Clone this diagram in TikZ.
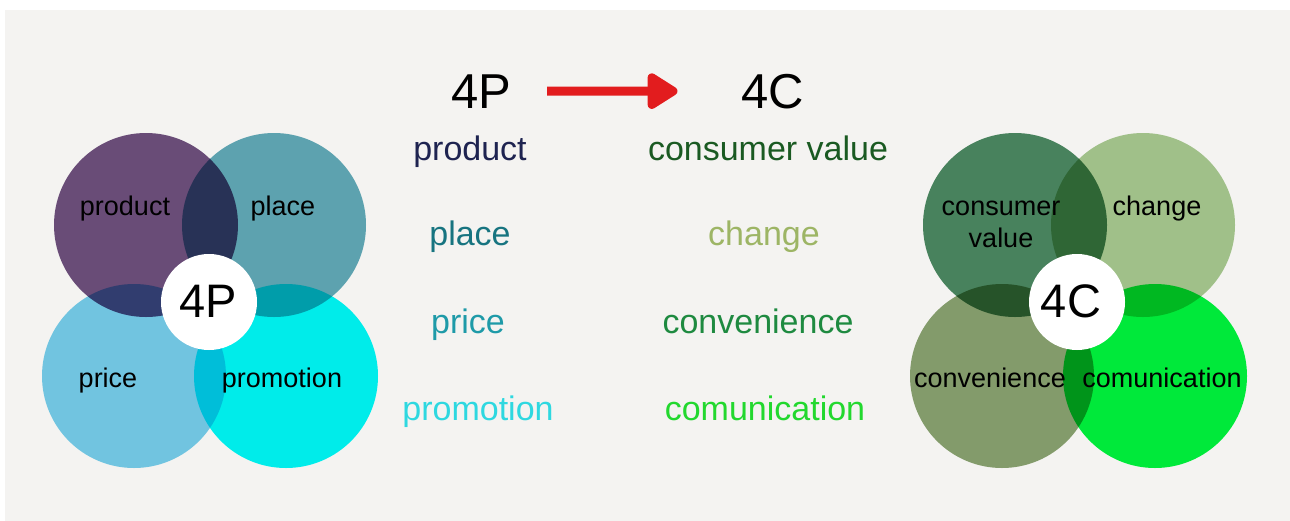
\documentclass[tikz,border=0pt]{standalone}
\usepackage{xcolor}
\usepackage{fontspec}
\setmainfont{Liberation Sans}
\usepackage{tikz}
\usetikzlibrary{arrows.meta}

\definecolor{bggray}{RGB}{244,243,241}
\definecolor{productc}{RGB}{110,80,126}
\definecolor{placec}{RGB}{98,171,186}
\definecolor{pricec}{RGB}{119,206,238}
\definecolor{promoc}{RGB}{0,248,248}
\definecolor{valuec}{RGB}{76,137,99}
\definecolor{changec}{RGB}{168,202,146}
\definecolor{convc}{RGB}{137,163,114}
\definecolor{comc}{RGB}{0,245,62}
\definecolor{arrowred}{RGB}{226,28,30}

\tikzset{
  big/.style={font=\fontsize{49}{49}\selectfont, anchor=base, inner sep=0pt},
  item/.style={font=\fontsize{34}{34}\selectfont, anchor=base, inner sep=0pt},
  lbl/.style={font=\fontsize{27}{32}\selectfont, anchor=base, inner sep=0pt, align=center},
  hub/.style={font=\fontsize{47}{47}\selectfont, anchor=base, inner sep=0pt},
}

\begin{document}
\begin{tikzpicture}[x=1pt,y=-1pt]
    \def\productcircle{(146,225) circle (92pt)}
    \def\placecircle{(274,225) circle (92pt)}
    \def\pricecircle{(134,376) circle (92pt)}
    \def\promocircle{(286,376) circle (92pt)}
    \def\valuecircle{(1015,225) circle (92pt)}
    \def\changecircle{(1143,225) circle (92pt)}
    \def\convcircle{(1002,376) circle (92pt)}
    \def\comcircle{(1155,376) circle (92pt)}

    \useasboundingbox (0,0) rectangle (1290,520);
    \fill[white] (0,0) rectangle (1290,520);
    \fill[bggray] (5,10) rectangle (1291,521);

    % overlapping circles darken each other
    \begin{scope}[blend mode=multiply]
          \fill[productc] \productcircle;
          \fill[placec] \placecircle;
          \fill[pricec] \pricecircle;
          \fill[promoc] \promocircle;
          \fill[valuec] \valuecircle;
          \fill[changec] \changecircle;
          \fill[convc] \convcircle;
          \fill[comc] \comcircle;
    \end{scope}
    \fill[white] (209,302) circle (48pt);
    \fill[white] (1077,302) circle (48pt);

    \node[hub] (hubp) at (208,317) {4P};
    \node[hub] (hubc) at (1071,317) {4C};

    \node[lbl] (lproduct) at (125,215) {product};
    \node[lbl] (lplace) at (283,215) {place};
    \node[lbl] (lprice) at (108,387) {price};
    \node[lbl] (lpromo) at (282,387) {promotion};
    \node[lbl,anchor=center] (lvalue) at (1001,224) {consumer\\value};
    \node[lbl] (lchange) at (1157,215) {change};
    \node[lbl] (lconv) at (990,387) {convenience};
    \node[lbl] (lcom) at (1162,387) {comunication};

    % heading and the two word lists
    \node[big] (headp) at (481,108) {4P};
    \node[big] (headc) at (773,108) {4C};
    \draw[arrowred, line width=9pt, -{Triangle[length=34pt 0,width=40pt 0,round]}]
          ([xshift=36pt]headp.east) -- ([xshift=-64pt]headc.west);

    \node[item, text={rgb,255:red,30;green,35;blue,80}] (iproduct) at (470,160) {product};
    \node[item, text={rgb,255:red,23;green,116;blue,128}] (iplace) at (470,245) {place};
    \node[item, text={rgb,255:red,30;green,154;blue,168}] (iprice) at (468,333) {price};
    \node[item, text={rgb,255:red,46;green,216;blue,224}] (ipromo) at (478,420) {promotion};

    \node[item, text={rgb,255:red,26;green,90;blue,34}] (ivalue) at (768,160) {consumer value};
    \node[item, text={rgb,255:red,157;green,181;blue,101}] (ichange) at (764,245) {change};
    \node[item, text={rgb,255:red,30;green,138;blue,64}] (iconv) at (758,333) {convenience};
    \node[item, text={rgb,255:red,34;green,216;blue,46}] (icom) at (765,420) {comunication};
\end{tikzpicture}
\end{document}
